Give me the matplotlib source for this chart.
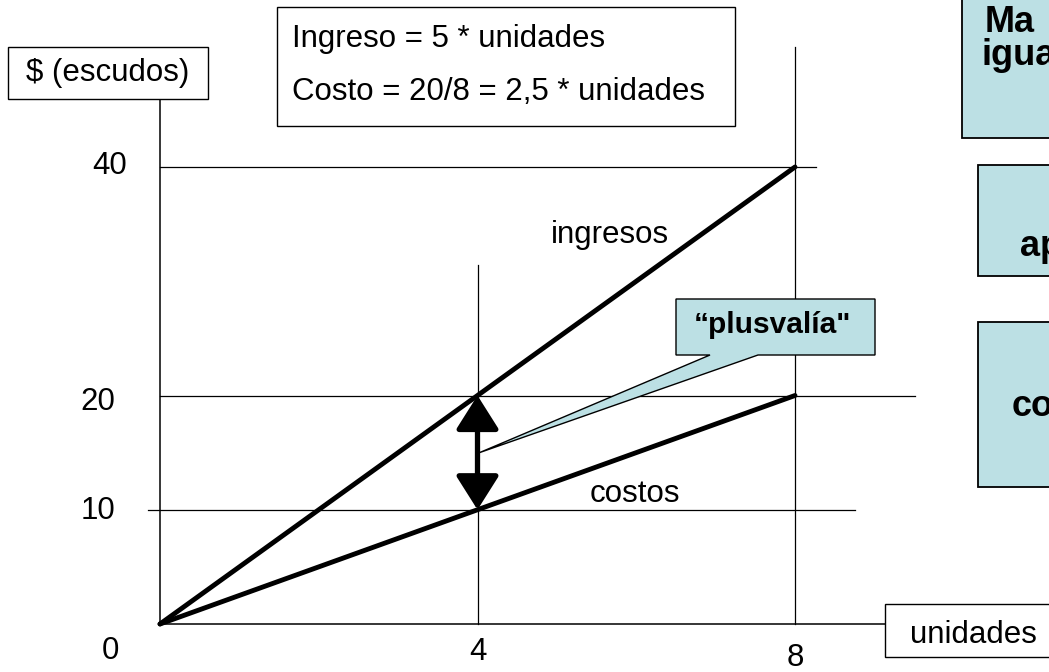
import numpy as np
import matplotlib.pyplot as plt
from matplotlib.patches import Rectangle, Polygon, FancyArrowPatch

plt.rcParams['font.family'] = ['Liberation Sans', 'DejaVu Sans']

# data
units = [0, 4, 8]
ingresos = [0, 20, 40]
costos = [0, 10, 20]
ytick_vals = [40, 20, 10]
xtick_vals = [0, 4, 8]
formula_lines = ["Ingreso = 5 * unidades", "Costo = 20/8 = 2,5 * unidades"]

W, H = 1049, 672
fig = plt.figure(figsize=(W / 100, H / 100), dpi=100)

# main axes spans the whole figure, origin of the diagram at pixel (160, 624)
ax = fig.add_axes([0, 0, 1, 1])
sx = (795 - 160) / 8.0
sy = (624 - 167) / 40.0
ax.set_xlim(-160 / sx, (W - 160) / sx)
ax.set_ylim(-(H - 624) / sy, 624 / sy)
ax.axis('off')

# overlay in pixel coords (top-left origin) for the slide boxes
deco = fig.add_axes([0, 0, 1, 1], zorder=3)
deco.set_xlim(0, W)
deco.set_ylim(H, 0)
deco.axis('off')
deco.patch.set_alpha(0)

grid_kw = dict(color='black', lw=0.9)
# horizontal guides (value, x start, x end)
for yv, x0, x1 in [(40, 0, 8.26), (20, 0, 9.51), (10, -0.15, 8.76)]:
    ax.plot([x0, x1], [yv, yv], **grid_kw)
# vertical guides (value, y top)
for xv, y1 in [(4, 31.4), (8, 50.5)]:
    ax.plot([xv, xv], [0, y1], **grid_kw)

# axis lines
ax.plot([0, 0], [0, 45.9], color='black', lw=1.1)
ax.plot([0, 9.13], [0, 0], color='black', lw=1.1)

# revenue and cost lines
ax.plot(units, ingresos, color='black', lw=3.5, solid_capstyle='round', zorder=4)
ax.plot(units, costos, color='black', lw=3.5, solid_capstyle='round', zorder=4)

# tick labels
ylab_x = [-0.64, -0.78, -0.78]
ylab_dy = [0.05, -0.55, -0.1]
for yv, xl, dy in zip(ytick_vals, ylab_x, ylab_dy):
    ax.text(xl, yv + dy, str(yv), fontsize=22.5, ha='center', va='center')
xlab_dy = [2.4, 2.45, 2.95]
for xv, dy in zip(xtick_vals, xlab_dy):
    xx = xv if xv else -0.63
    ax.text(xx, -dy, str(xv), fontsize=22.5, ha='center', va='center')

# double arrow between the two lines at x = 4
i4 = units.index(4)
arr = FancyArrowPatch((4, costos[i4]), (4, ingresos[i4]),
                      arrowstyle='<|-|>,head_length=0.95,head_width=0.6',
                      mutation_scale=22, lw=3.8, color='black',
                      shrinkA=0, shrinkB=0, zorder=5)
ax.add_patch(arr)

# line labels
ax.text((610 - 160) / sx, (624 - 243) / sy, "ingresos", fontsize=22.5,
        ha='center', va='baseline')
ax.text((635 - 160) / sx, (624 - 502) / sy, "costos", fontsize=22.5,
        ha='center', va='baseline')

# axis title boxes
deco.add_patch(Rectangle((8, 47), 200, 52, fc='white', ec='black', lw=1))
deco.text(108, 73, "$ (escudos)", fontsize=22.5, ha='center', va='center')
deco.add_patch(Rectangle((885, 604), 200, 53, fc='white', ec='black', lw=1))
deco.text(973, 643, "unidades", fontsize=22.5, ha='center', va='baseline')

# formula box
deco.add_patch(Rectangle((277, 7), 458, 119, fc='white', ec='black', lw=1))
for line, yb in zip(formula_lines, [47, 100]):
    deco.text(292, yb, line, fontsize=22.5, ha='left', va='baseline')

# plusvalia callout
blue = '#bce0e4'
tip_x, tip_y = ax.transData.transform((4, 15))
tip = deco.transData.inverted().transform((tip_x, tip_y))
callout = Polygon([(676, 299), (875, 299), (875, 355), (758, 355),
                   (tip[0] + 2, tip[1]), (710, 355), (676, 355)],
                  closed=True, fc=blue, ec='black', lw=1)
deco.add_patch(callout)
deco.text(773, 333, "\u201cplusval\u00eda\"", fontsize=21.5, fontweight='bold',
          ha='center', va='baseline')

# boxes on the right edge, cut by the slide border
for (x0, y0, y1) in [(962, -10, 138), (978, 165, 276), (978, 322, 487)]:
    deco.add_patch(Rectangle((x0, y0), 120, y1 - y0, fc=blue, ec='black', lw=1.3))
deco.text(985, 32, "Ma", fontsize=26, fontweight='bold', ha='left', va='baseline')
deco.text(982, 65, "igua", fontsize=26, fontweight='bold', ha='left', va='baseline')
deco.text(1020, 256, "ap", fontsize=26, fontweight='bold', ha='left', va='baseline')
deco.text(1012, 416, "co", fontsize=26, fontweight='bold', ha='left', va='baseline')

fig.savefig('out.png', dpi=100)
